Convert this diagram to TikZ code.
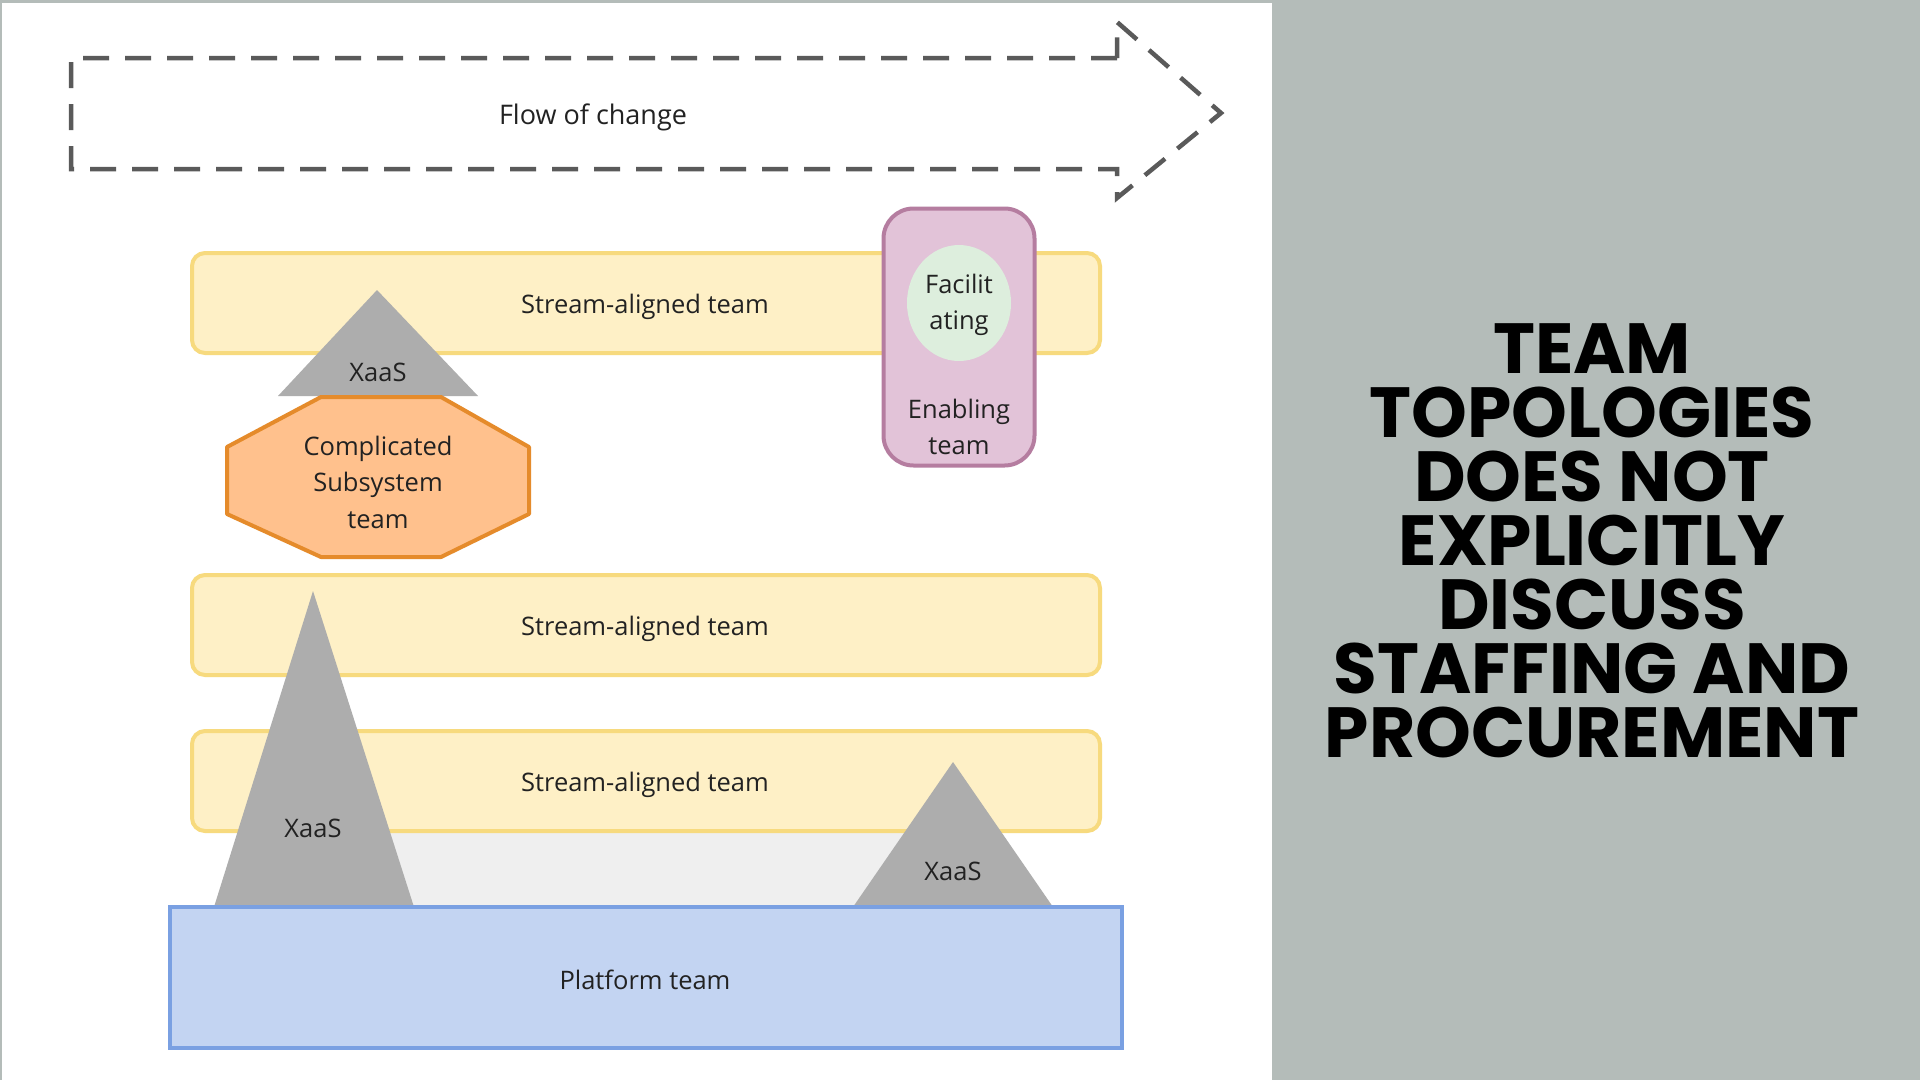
\documentclass[tikz,border=0pt]{standalone}
\usepackage{fontspec}
\usetikzlibrary{shapes.geometric}
\setmainfont{Open Sans}
\newfontfamily\titlefont{Poppins}
\definecolor{panelgray}{HTML}{B4BCB9}
\definecolor{streamfill}{HTML}{FEF0C6}
\definecolor{streamline}{HTML}{F7DA7E}
\definecolor{platfill}{HTML}{C3D4F2}
\definecolor{platline}{HTML}{7AA0E2}
\definecolor{trigray}{HTML}{ADADAD}
\definecolor{octfill}{HTML}{FFC18D}
\definecolor{octline}{HTML}{E58B2B}
\definecolor{enfill}{HTML}{E2C3D8}
\definecolor{enline}{HTML}{B57DA0}
\definecolor{facfill}{HTML}{DDEEDD}
\definecolor{bggray}{HTML}{EFEFEF}
\definecolor{dashgray}{HTML}{5A5A5A}
\definecolor{txt}{HTML}{222222}
\tikzset{
  lbl/.style={text=txt, font=\fontsize{25.5}{36.5}\selectfont, align=center, inner sep=0pt},
  streambox/.style={draw=streamline, fill=streamfill, line width=4pt, rounded corners=13pt,
    minimum width=908pt, minimum height=100pt, inner sep=0pt},
  tri/.style={fill=trigray, draw=none},
}
\begin{document}
\begin{tikzpicture}[x=1pt,y=-1pt]
\useasboundingbox (0,0) rectangle (1920,1080);
\fill[white] (0,0) rectangle (1272,1080);
\fill[panelgray] (1272,0) rectangle (1920,1080);
\fill[panelgray] (0,0) rectangle (1272,3);
\fill[panelgray] (0,0) rectangle (2,1080);

% dashed flow arrow
\coordinate (fa1) at (1117,58);
\coordinate (fa2) at (71,58);
\coordinate (fa3) at (71,169);
\coordinate (fa4) at (1117,169);
\coordinate (fa5) at (1117,198);
\coordinate (fa6) at (1221,113);
\coordinate (fa7) at (1117,22);
\draw[dashgray, line width=4.5pt, dash pattern=on 26pt off 16pt]
  (fa1) -- (fa2) -- (fa3) -- (fa4) -- (fa5) -- (fa6) -- (fa7) -- cycle;
\node[lbl, font=\fontsize{27}{36}\selectfont] (flow) at (593,117) {Flow of change};

% background gray strip
\fill[bggray] (313,831) rectangle (953,907);

% stream-aligned teams
\node[streambox] (s1) at (646,303) {};
\node[lbl] (s1t) at (645,307) {Stream-aligned team};
\node[streambox] (s2) at (646,625) {};
\node[lbl] (s2t) at (645,629) {Stream-aligned team};
\node[streambox] (s3) at (646,781) {};
\node[lbl] (s3t) at (645,785) {Stream-aligned team};

% triangles
\fill[tri] (377,290) -- (478,396) -- (278,396) -- cycle;
\node[lbl] (x1) at (378,372) {XaaS};
\fill[tri] (313,591) -- (414,907) -- (214,907) -- cycle;
\node[lbl] (x2) at (313,828) {XaaS};
\fill[tri] (953,762) -- (1053,907) -- (853,907) -- cycle;
\node[lbl] (x3) at (953,871) {XaaS};

% complicated subsystem octagon
\draw[octline, fill=octfill, line width=4pt, line join=round]
  (321,397) -- (441,397) -- (529,447) -- (529,514) -- (441,557) -- (321,557) -- (227,514) -- (227,447) -- cycle;
\node[lbl] (cs) at (378,482) {Complicated\\Subsystem\\team};

% enabling team
\node[draw=enline, fill=enfill, line width=4pt, rounded corners=30pt,
  minimum width=151pt, minimum height=257pt, inner sep=0pt] (en) at (959,337) {};
\node[fill=facfill, ellipse, minimum width=104pt, minimum height=116pt, inner sep=0pt] (fac) at (959,303) {};
\node[lbl] (fact) at (959,305) {Facilit\\ating};
\node[lbl] (ent) at (959,427) {Enabling\\team};

% platform team
\node[draw=platline, fill=platfill, line width=4pt, minimum width=952pt, minimum height=141pt, inner sep=0pt] (pl) at (646,977) {};
\node[lbl] (plt) at (645,980) {Platform team};

% title
\node[text=black, font=\titlefont\bfseries\fontsize{71}{64}\selectfont, align=center, inner sep=0pt] (title) at (1592,541)
  {TEAM\\TOPOLOGIES\\DOES NOT\\EXPLICITLY\\DISCUSS\\STAFFING AND\\PROCUREMENT};
\end{tikzpicture}
\end{document}
